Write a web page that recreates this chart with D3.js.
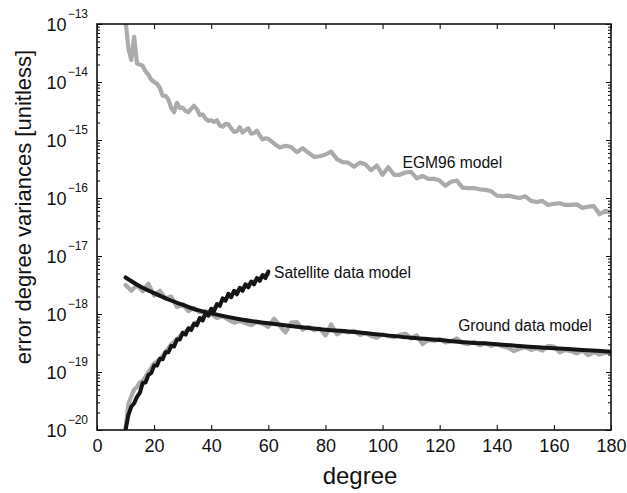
<!DOCTYPE html>
<html>
<head>
<meta charset="utf-8">
<script src="https://cdn.jsdelivr.net/npm/d3@7"></script>
<style>
  html, body { margin: 0; padding: 0; background: #fff; }
  svg { display: block; font-family: "Liberation Sans", Arial, Helvetica, sans-serif; }
</style>
</head>
<body>
<svg id="chart" width="627" height="493"></svg>
<script>
// ---- Data (values are log10 of the error degree variance) ----
const xTicks = [0, 20, 40, 60, 80, 100, 120, 140, 160, 180];
const yTickExponents = [-20, -19, -18, -17, -16, -15, -14, -13];

const egmDegrees = [10,11,12,13,14,15,16,17,18,19,20,21,22,23,24,25,26,27,28,29,30,31,32,33,34,35,36,37,38,39,40,
  41,42,43,44,45,46,47,48,49,50,51,52,53,54,55,56,57,58,59,60,
  62,64,66,68,70,72,74,76,78,80,82,84,86,88,90,92,94,96,98,100,102,104,106,108,110,112,114,116,118,120,
  122,124,126,128,130,132,134,136,138,140,142,144,146,148,150,152,154,156,158,160,162,164,166,168,170,172,174,176,178,180];
const egmLog10 = [-12.95,-13.42,-13.62,-13.22,-13.68,-13.70,-13.72,-13.82,-13.87,-13.96,-14.00,-14.03,-14.10,-14.24,-14.24,-14.30,-14.45,-14.52,-14.36,-14.45,-14.44,
  -14.50,-14.52,-14.46,-14.41,-14.47,-14.57,-14.56,-14.63,-14.67,-14.66,-14.69,-14.66,-14.75,-14.77,-14.72,-14.73,-14.80,-14.86,-14.85,-14.78,
  -14.87,-14.83,-14.80,-14.89,-14.88,-14.84,-14.92,-14.99,-14.97,-14.98,
  -15.06,-15.13,-15.10,-15.12,-15.21,-15.14,-15.22,-15.29,-15.28,-15.25,-15.20,-15.33,-15.38,-15.39,-15.46,-15.39,-15.42,-15.52,-15.44,-15.60,
  -15.47,-15.60,-15.60,-15.56,-15.55,-15.66,-15.62,-15.67,-15.67,-15.70,-15.79,-15.72,-15.70,-15.82,-15.83,-15.83,-15.85,-15.86,-15.88,-15.96,
  -15.97,-15.96,-15.98,-16.00,-15.97,-16.05,-16.07,-16.05,-16.12,-16.10,-16.09,-16.12,-16.12,-16.11,-16.17,-16.15,-16.14,-16.28,-16.22,-16.25];

const groundObsDegrees = d3.range(10, 181, 2);
const groundObsLog10 = [-17.50,-17.60,-17.50,-17.61,-17.48,-17.68,-17.60,-17.73,-17.70,-17.88,-17.84,-17.95,-17.90,-17.97,-17.95,-18.00,
  -18.07,-18.04,-18.10,-18.15,-18.12,-18.16,-18.19,-18.14,-18.17,-18.22,
  -18.08,-18.20,-18.32,-18.15,-18.14,-18.27,-18.22,-18.28,-18.25,-18.37,-18.18,-18.35,-18.30,-18.32,-18.29,-18.36,-18.33,-18.38,-18.41,-18.35,
  -18.38,-18.40,-18.36,-18.34,-18.42,-18.37,-18.52,-18.45,-18.46,-18.43,-18.49,-18.47,-18.42,-18.50,-18.52,-18.48,-18.54,-18.50,-18.55,-18.52,
  -18.56,-18.58,-18.64,-18.60,-18.57,-18.62,-18.59,-18.63,-18.55,-18.56,-18.66,-18.62,-18.64,-18.68,-18.63,-18.71,-18.66,-18.70,-18.67,-18.66];

const groundModelDegrees = [10,15,20,25,30,35,40,50,60,70,80,90,100,110,120,130,140,150,160,170,180];
const groundModelLog10 = [-17.37,-17.52,-17.64,-17.75,-17.84,-17.93,-17.99,-18.09,-18.16,-18.22,-18.27,-18.31,-18.36,-18.41,-18.45,-18.49,-18.52,-18.56,-18.59,-18.62,-18.65];

const satDegrees = d3.range(10, 61, 1);
const satObsLog10 = [-19.97,-19.55,-19.42,-19.30,-19.26,-19.18,-19.15,-19.08,-19.00,-18.93,-18.85,-18.82,-18.78,-18.72,-18.65,-18.59,-18.52,
  -18.48,-18.43,-18.39,-18.33,-18.30,-18.26,-18.23,-18.18,-18.14,-18.10,-18.05,-18.01,-17.97,-17.93,-17.90,-17.85,-17.82,-17.77,-17.74,
  -17.70,-17.67,-17.63,-17.61,-17.57,-17.55,-17.52,-17.49,-17.46,-17.44,-17.41,-17.38,-17.36,-17.33,-17.31];
const satModelLog10 = [-20.00,-19.74,-19.60,-19.54,-19.43,-19.36,-19.19,-19.18,-19.05,-19.02,-18.89,-18.89,-18.77,-18.78,-18.66,-18.66,-18.55,
  -18.56,-18.44,-18.44,-18.325,-18.355,-18.245,-18.275,-18.165,-18.195,-18.07,-18.11,-17.99,-18.03,-17.91,-17.95,-17.83,-17.86,-17.73,-17.77,
  -17.65,-17.71,-17.60,-17.66,-17.55,-17.60,-17.49,-17.54,-17.44,-17.49,-17.38,-17.43,-17.33,-17.38,-17.27];

const curveLabels = [
  { text: "EGM96 model", degree: 107, exp: -15.48 },
  { text: "Satellite data model", degree: 62, exp: -17.38 },
  { text: "Ground data model", degree: 126.5, exp: -18.30 }
];

// ---- Layout ----
const svg = d3.select("#chart");
const L = 97, R = 611, T = 24, B = 430;
const x = d3.scaleLinear().domain([0, 180]).range([L, R]);
const y = d3.scaleLog().domain([1e-20, 1e-13]).range([B, T]);

const grey = "#ababab", black = "#151515";

svg.append("defs").append("clipPath").attr("id", "clip")
  .append("rect").attr("x", L).attr("y", T).attr("width", R - L).attr("height", B - T);

const toPts = (degs, logs) => degs.map((d, i) => [d, Math.pow(10, logs[i])]);
const line = d3.line().x(d => x(d[0])).y(d => y(d[1]));
const smooth = d3.line().x(d => x(d[0])).y(d => y(d[1])).curve(d3.curveMonotoneX);

const g = svg.append("g").attr("clip-path", "url(#clip)");
function draw(pts, gen, color, w) {
  g.append("path").datum(pts).attr("d", gen)
    .attr("fill", "none").attr("stroke", color).attr("stroke-width", w)
    .attr("stroke-linejoin", "round").attr("stroke-linecap", "round");
}
draw(toPts(egmDegrees, egmLog10), line, grey, 4.2);
draw(toPts(groundObsDegrees, groundObsLog10), line, grey, 4.2);
draw(toPts(satDegrees, satObsLog10), line, grey, 4.2);
draw(toPts(groundModelDegrees, groundModelLog10), smooth, black, 4);
draw(toPts(satDegrees, satModelLog10), line, black, 4);

// ---- Axes ----
const majors = yTickExponents.map(e => Math.pow(10, e));
const minors = [];
for (let e = -20; e < -13; e++) for (let m = 2; m <= 9; m++) minors.push(m * Math.pow(10, e));

function styleAxis(sel) {
  sel.select(".domain").remove();
  sel.selectAll("line").attr("stroke", "#000").attr("stroke-width", 1);
}

svg.append("g").attr("transform", `translate(0,${B})`)
  .call(d3.axisBottom(x).tickValues(xTicks).tickSizeInner(-5).tickSizeOuter(0).tickPadding(9).tickFormat(d3.format("d")))
  .call(styleAxis)
  .call(s => s.selectAll("text").attr("font-size", 18).attr("fill", "#111").attr("font-family", "Liberation Sans, Arial, sans-serif"));
svg.append("g").attr("transform", `translate(0,${T})`)
  .call(d3.axisTop(x).tickValues(xTicks).tickSizeInner(-5).tickSizeOuter(0).tickFormat(""))
  .call(styleAxis);

const yl = svg.append("g").attr("transform", `translate(${L},0)`)
  .call(d3.axisLeft(y).tickValues(majors).tickSizeInner(-5).tickSizeOuter(0).tickPadding(9).tickFormat(""))
  .call(styleAxis);
yl.selectAll(".tick text").each(function(d, i) {
  const t = d3.select(this).attr("dy", null).attr("y", 6.5)
    .attr("font-size", 18).attr("fill", "#111").attr("font-family", "Liberation Sans, Arial, sans-serif");
  t.append("tspan").text("10");
  t.append("tspan").attr("font-size", 12).attr("dy", -13).attr("dx", 1)
    .text("\u2212" + Math.abs(yTickExponents[i]));
});
svg.append("g").attr("transform", `translate(${L},0)`)
  .call(d3.axisLeft(y).tickValues(minors).tickSizeInner(-3).tickSizeOuter(0).tickFormat(""))
  .call(styleAxis);
svg.append("g").attr("transform", `translate(${R},0)`)
  .call(d3.axisRight(y).tickValues(majors).tickSizeInner(-5).tickSizeOuter(0).tickFormat(""))
  .call(styleAxis);
svg.append("g").attr("transform", `translate(${R},0)`)
  .call(d3.axisRight(y).tickValues(minors).tickSizeInner(-3).tickSizeOuter(0).tickFormat(""))
  .call(styleAxis);

// frame
svg.append("rect").attr("x", L).attr("y", T).attr("width", R - L).attr("height", B - T)
  .attr("fill", "none").attr("stroke", "#111").attr("stroke-width", 1.6);

// curve labels
svg.append("g").selectAll("text").data(curveLabels).join("text")
  .attr("x", d => x(d.degree)).attr("y", d => y(Math.pow(10, d.exp)))
  .attr("font-size", 15.6).attr("fill", "#111").text(d => d.text);

// axis titles
svg.append("text").attr("x", 360).attr("y", 484).attr("text-anchor", "middle")
  .attr("font-size", 24).attr("fill", "#111").text("degree");
svg.append("text").attr("transform", "translate(31,207) rotate(-90)").attr("text-anchor", "middle")
  .attr("font-size", 22).attr("fill", "#111").text("error degree variances [unitless]");
</script>
</body>
</html>
